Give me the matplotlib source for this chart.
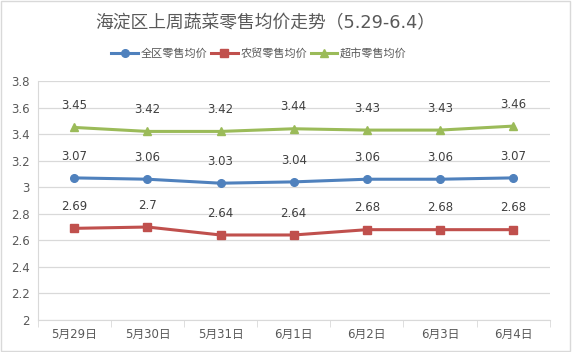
import matplotlib
matplotlib.use("Agg")
import matplotlib.pyplot as plt
from matplotlib.lines import Line2D

plt.rcParams['font.family'] = ['DejaVu Sans', 'Noto Sans CJK SC']

categories = ["5月29日", "5月30日", "5月31日", "6月1日", "6月2日", "6月3日", "6月4日"]
quanqu = [3.07, 3.06, 3.03, 3.04, 3.06, 3.06, 3.07]
nongmao = [2.69, 2.7, 2.64, 2.64, 2.68, 2.68, 2.68]
chaoshi = [3.45, 3.42, 3.42, 3.44, 3.43, 3.43, 3.46]
series_names = ["全区零售均价", "农贸零售均价", "超市零售均价"]
yticks = [2, 2.2, 2.4, 2.6, 2.8, 3, 3.2, 3.4, 3.6, 3.8]
ytick_labels = ["2", "2.2", "2.4", "2.6", "2.8", "3", "3.2", "3.4", "3.6", "3.8"]

colors = ["#4F81BD", "#C0504D", "#9BBB59"]
markers = ["o", "s", "^"]

fig = plt.figure(figsize=(5.72, 3.52), dpi=100)
fig.patch.set_facecolor("white")
# outer border
fig.add_artist(plt.Rectangle((0.002, 0.003), 0.995, 0.993, transform=fig.transFigure,
                             fill=False, edgecolor="#D9D9D9", linewidth=1))

ax = fig.add_axes([0.066, 0.091, 0.895, 0.679])
x = list(range(len(categories)))
for vals, c, m, name in zip([quanqu, nongmao, chaoshi], colors, markers, series_names):
    ax.plot(x, vals, color=c, marker=m, markersize=5.5, linewidth=2.2, label=name)
    for xi, v in zip(x, vals):
        ax.annotate(f"{v:g}", (xi, v), xytext=(0, 11), textcoords="offset points",
                    ha="center", va="bottom", fontsize=8.5, color="#404040")

ax.set_xlim(-0.5, len(categories) - 0.5)
ax.set_ylim(2, 3.8)
ax.set_yticks(yticks)
ax.set_yticklabels(ytick_labels)
ax.set_xticks(x)
ax.set_xticklabels(categories)
ax.set_xticks([i - 0.5 for i in range(len(categories) + 1)], minor=True)
ax.tick_params(axis="x", which="major", length=0, labelsize=8.5, colors="#595959", pad=6)
ax.tick_params(axis="x", which="minor", length=5, color="#D9D9D9")
ax.tick_params(axis="y", length=0, labelsize=8.5, colors="#595959", pad=6)
ax.grid(axis="y", color="#D9D9D9", linewidth=0.9)
ax.set_axisbelow(True)
for s in ["top", "right"]:
    ax.spines[s].set_visible(False)
ax.spines["left"].set_color("#D9D9D9")
ax.spines["bottom"].set_color("#D9D9D9")

fig.text(0.463, 0.935, "海淀区上周蔬菜零售均价走势（5.29-6.4）", ha="center", va="center",
         fontsize=12.8, color="#595959")

handles = [Line2D([0], [0], color=c, marker=m, linewidth=2.2, markersize=5.5) for c, m in zip(colors, markers)]
fig.legend(handles, series_names, loc="center", bbox_to_anchor=(0.453, 0.848), ncol=3,
           frameon=False, fontsize=8, labelcolor="#595959", handlelength=2.4,
           handletextpad=0.25, columnspacing=0.3)

fig.savefig("out.png", dpi=100)
